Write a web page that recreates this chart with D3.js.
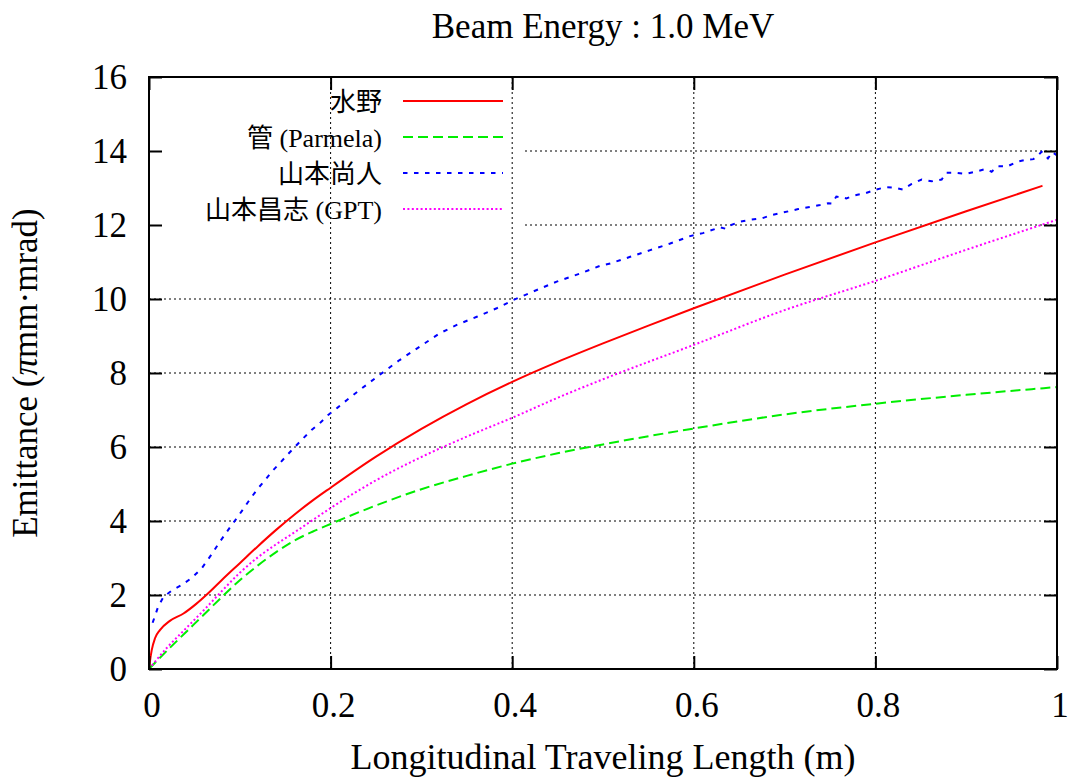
<!DOCTYPE html>
<html>
<head>
<meta charset="utf-8">
<script src="https://cdn.jsdelivr.net/npm/d3@7"></script>
<style>
  html, body { margin: 0; padding: 0; background: #fff; }
  svg { display: block; font-family: "Liberation Serif", "Times New Roman", "Noto Sans CJK JP", serif; }
</style>
</head>
<body>
<svg id="chart" width="1072" height="783"></svg>
<script>
// ---- data ----
const chartTitle = "Beam Energy : 1.0 MeV";
const xLabel = "Longitudinal Traveling Length (m)";
const xTicks = [0, 0.2, 0.4, 0.6, 0.8, 1];
const xTickLabels = ["0", "0.2", "0.4", "0.6", "0.8", "1"];
const yTicks = [0, 2, 4, 6, 8, 10, 12, 14, 16];
const seriesNames = ["水野", "管 (Parmela)", "山本尚人", "山本昌志 (GPT)"];

// 水野
const mizuno = [
  [0, 0], [0.001, 0.2], [0.003, 0.51], [0.0066, 0.83], [0.012, 1.05], [0.023, 1.3],
  [0.038, 1.5], [0.052, 1.76], [0.064, 2.02], [0.08, 2.4], [0.1, 2.86], [0.12, 3.32],
  [0.14, 3.76], [0.16, 4.17], [0.18, 4.55], [0.2, 4.9], [0.25, 5.74], [0.3, 6.49],
  [0.35, 7.16], [0.4, 7.76], [0.45, 8.3], [0.5, 8.8], [0.55, 9.28], [0.6, 9.75],
  [0.7, 10.66], [0.8, 11.53], [0.9, 12.37], [0.984, 13.06]
];

// 管 (Parmela)
const parmela = [
  [0, 0], [0.02, 0.5], [0.04, 0.98], [0.06, 1.46], [0.08, 1.94], [0.1, 2.4],
  [0.12, 2.8], [0.14, 3.16], [0.16, 3.47], [0.18, 3.71], [0.2, 3.92], [0.25, 4.42],
  [0.3, 4.86], [0.35, 5.22], [0.4, 5.55], [0.45, 5.83], [0.5, 6.07], [0.6, 6.5],
  [0.7, 6.88], [0.8, 7.17], [0.9, 7.41], [1.0, 7.62]
];

// 山本尚人
const yamamotoN = [
  [0.004, 1.25], [0.005, 1.32], [0.010, 1.68], [0.016, 1.95], [0.025, 2.12], [0.036, 2.27],
  [0.047, 2.46], [0.058, 2.72], [0.069, 3.1], [0.078, 3.44], [0.091, 3.89], [0.098, 4.12],
  [0.111, 4.58], [0.120, 4.88], [0.128, 5.11], [0.135, 5.33], [0.144, 5.56], [0.152, 5.78],
  [0.161, 6.01], [0.170, 6.24], [0.179, 6.46], [0.188, 6.64], [0.197, 6.86], [0.207, 7.05],
  [0.218, 7.27], [0.232, 7.54], [0.254, 7.95], [0.276, 8.35], [0.298, 8.71], [0.320, 9.07],
  [0.339, 9.30], [0.361, 9.52], [0.383, 9.75], [0.401, 9.97], [0.423, 10.2], [0.449, 10.47],
  [0.475, 10.69], [0.497, 10.9], [0.508, 10.96], [0.530, 11.14], [0.552, 11.32], [0.574, 11.5],
  [0.596, 11.7], [0.610, 11.78], [0.629, 11.94], [0.635, 11.9], [0.640, 11.99], [0.651, 12.09],
  [0.662, 12.14], [0.675, 12.18], [0.686, 12.27], [0.697, 12.33], [0.715, 12.43], [0.726, 12.48],
  [0.739, 12.54], [0.748, 12.59], [0.752, 12.58], [0.757, 12.77], [0.768, 12.72], [0.779, 12.81],
  [0.789, 12.86], [0.801, 12.96], [0.811, 13.02], [0.820, 13.01], [0.830, 12.96], [0.840, 13.11],
  [0.851, 13.23], [0.862, 13.18], [0.873, 13.23], [0.878, 13.41], [0.888, 13.41], [0.899, 13.38],
  [0.910, 13.44], [0.921, 13.51], [0.928, 13.44], [0.935, 13.59], [0.945, 13.58], [0.956, 13.71],
  [0.965, 13.76], [0.974, 13.78], [0.978, 13.85], [0.983, 13.98], [0.990, 13.8], [0.995, 13.97],
  [1.0, 13.88]
];

// 山本昌志 (GPT)
const yamamotoM = [
  [0, 0], [0.02, 0.58], [0.04, 1.08], [0.06, 1.58], [0.08, 2.1], [0.1, 2.6],
  [0.12, 3.02], [0.14, 3.37], [0.16, 3.69], [0.18, 4.02], [0.2, 4.35], [0.25, 5.1],
  [0.3, 5.73], [0.35, 6.28], [0.4, 6.79], [0.45, 7.33], [0.5, 7.83], [0.6, 8.76],
  [0.7, 9.7], [0.8, 10.49], [0.9, 11.33], [1.0, 12.14]
];

// ---- layout ----
const svg = d3.select("#chart");
const plot = { left: 149, right: 1057, top: 77, bottom: 669 };
const x = d3.scaleLinear().domain([0, 1]).range([plot.left, plot.right]);
const y = d3.scaleLinear().domain([0, 16]).range([plot.bottom, plot.top]);
const tickLen = 13;
const fontMain = 35;

const styles = [
  { color: "#ff0000", dash: null,      curve: d3.curveMonotoneX },
  { color: "#00ee00", dash: "10,5",    curve: d3.curveMonotoneX },
  { color: "#0000ff", dash: "4.5,6.5", curve: d3.curveLinear },
  { color: "#ff00ff", dash: "2,2.4",   curve: d3.curveMonotoneX }
];
const seriesData = [mizuno, parmela, yamamotoN, yamamotoM];

// legend geometry (key area keeps horizontal grid lines out)
const key = { textRight: 382, sampleX1: 403, sampleX2: 503, firstRow: 101, rowStep: 36, right: 525 };
const keyBottom = key.firstRow + key.rowStep * (seriesNames.length - 1) + 22;

// ---- grid ----
const grid = svg.append("g").attr("stroke", "#000").attr("stroke-width", 1)
  .attr("stroke-dasharray", "2,3").attr("fill", "none");
xTicks.filter(v => v > 0 && v < 1).forEach(v => {
  grid.append("line").attr("x1", x(v)).attr("x2", x(v))
    .attr("y1", plot.top).attr("y2", plot.bottom);
});
yTicks.filter(v => v > 0 && v < 16).forEach(v => {
  const yy = y(v);
  const start = yy < keyBottom ? key.right : plot.left;
  grid.append("line").attr("x1", start).attr("x2", plot.right)
    .attr("y1", yy).attr("y2", yy);
});

// ---- curves ----
svg.append("clipPath").attr("id", "plotclip").append("rect")
  .attr("x", plot.left).attr("y", plot.top)
  .attr("width", plot.right - plot.left).attr("height", plot.bottom - plot.top);

const curves = svg.append("g").attr("clip-path", "url(#plotclip)");
seriesData.forEach((d, i) => {
  const line = d3.line().x(p => x(p[0])).y(p => y(p[1])).curve(styles[i].curve);
  curves.append("path").datum(d)
    .attr("d", line)
    .attr("fill", "none")
    .attr("stroke", styles[i].color)
    .attr("stroke-width", 2)
    .attr("stroke-dasharray", styles[i].dash);
});

// ---- axes (ticks on all four sides, pointing inward) ----
const axBottom = d3.axisBottom(x).tickValues(xTicks).tickSize(-tickLen).tickFormat("");
const axTop = d3.axisTop(x).tickValues(xTicks).tickSize(-tickLen).tickFormat("");
const axLeft = d3.axisLeft(y).tickValues(yTicks).tickSize(-tickLen).tickFormat("");
const axRight = d3.axisRight(y).tickValues(yTicks).tickSize(-tickLen).tickFormat("");
[
  [axBottom, `translate(0,${plot.bottom})`],
  [axTop, `translate(0,${plot.top})`],
  [axLeft, `translate(${plot.left},0)`],
  [axRight, `translate(${plot.right},0)`]
].forEach(([ax, tr]) => {
  const g = svg.append("g").attr("transform", tr).call(ax);
  g.select(".domain").remove();
  g.selectAll(".tick line").attr("stroke", "#000").attr("stroke-width", 2);
});

// border
svg.append("rect")
  .attr("x", plot.left).attr("y", plot.top)
  .attr("width", plot.right - plot.left).attr("height", plot.bottom - plot.top)
  .attr("fill", "none").attr("stroke", "#000").attr("stroke-width", 2);

// tick labels
svg.append("g").selectAll("text").data(xTicks).join("text")
  .attr("x", d => x(d) + 3)
  .attr("y", plot.bottom + 48)
  .attr("text-anchor", "middle")
  .attr("font-size", fontMain)
  .text((d, i) => xTickLabels[i]);

svg.append("g").selectAll("text").data(yTicks).join("text")
  .attr("x", plot.left - 22)
  .attr("y", d => y(d) + 11.5)
  .attr("text-anchor", "end")
  .attr("font-size", fontMain)
  .text(d => d);

// title and axis labels
svg.append("text")
  .attr("x", (plot.left + plot.right) / 2)
  .attr("y", 38)
  .attr("text-anchor", "middle")
  .attr("font-size", fontMain)
  .text(chartTitle);

svg.append("text")
  .attr("x", (plot.left + plot.right) / 2)
  .attr("y", 769)
  .attr("text-anchor", "middle")
  .attr("font-size", 36)
  .text(xLabel);

const yl = svg.append("text")
  .attr("transform", `translate(37,${(plot.top + plot.bottom) / 2}) rotate(-90)`)
  .attr("text-anchor", "middle")
  .attr("font-size", fontMain);
yl.append("tspan").text("Emittance (");
yl.append("tspan").attr("font-style", "italic").text("π");
yl.append("tspan").text("mm·mrad)");

// ---- legend ----
const legend = svg.append("g");
seriesNames.forEach((name, i) => {
  const ry = key.firstRow + i * key.rowStep;
  legend.append("text")
    .attr("x", key.textRight)
    .attr("y", ry + 10)
    .attr("text-anchor", "end")
    .attr("font-size", 26)
    .text(name);
  legend.append("line")
    .attr("x1", key.sampleX1).attr("x2", key.sampleX2)
    .attr("y1", ry).attr("y2", ry)
    .attr("stroke", styles[i].color)
    .attr("stroke-width", 2)
    .attr("stroke-dasharray", styles[i].dash);
});
</script>
</body>
</html>
